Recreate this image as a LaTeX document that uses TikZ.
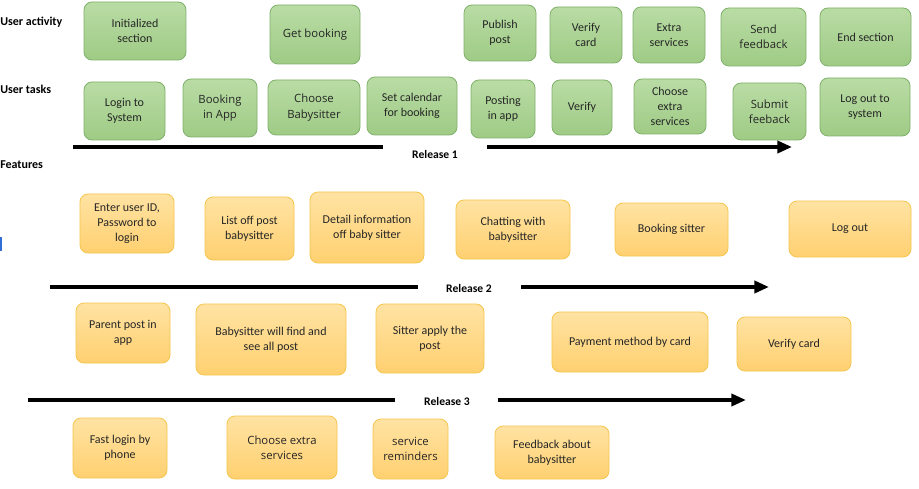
\documentclass[tikz,border=0pt]{standalone}
\usepackage{fontspec}
\setmainfont{Carlito}
\newfontfamily\segoe{Open Sans}
\usetikzlibrary{arrows.meta}
\definecolor{gfillT}{HTML}{B9DCA5}
\definecolor{gfillB}{HTML}{9FCB85}
\definecolor{gdraw}{HTML}{7FB069}
\definecolor{yfillT}{HTML}{FFE3A3}
\definecolor{yfillB}{HTML}{FFD070}
\definecolor{ydraw}{HTML}{F5C64E}
\definecolor{txt}{HTML}{262626}
\definecolor{cursorblue}{HTML}{2F6FD6}
\tikzset{
 card/.style={rounded corners=6pt, inner sep=1pt, align=center, line width=0.6pt, font=\fontsize{9}{11.25}\selectfont, text=txt},
 gbox/.style={card, draw=gdraw, top color=gfillT, bottom color=gfillB},
 ybox/.style={card, draw=ydraw, top color=yfillT, bottom color=yfillB},
 big/.style={font=\segoe\fontsize{8.5}{11.5}\selectfont},
 rowlabel/.style={anchor=west, font=\bfseries\fontsize{9}{10}\selectfont, inner sep=0},
 rel/.style={font=\bfseries\fontsize{8.7}{10}\selectfont, inner sep=0},
 relline/.style={line width=3pt},
 relarrow/.style={line width=3pt, -{Triangle[length=11pt,width=9pt]}},
}
\newcommand\cardat[7]{\node[#1, minimum width={(#5-#3)*0.75pt}, minimum height={(#6-#4)*0.75pt}] (#2) at ({(#3+#5)/2},{(#4+#6)/2}) {#7};}
\begin{document}
\begin{tikzpicture}[x=0.75pt,y=-0.75pt]
\useasboundingbox (0,0) rectangle (919,488);
\fill[white] (0,0) rectangle (919,488);
% row labels
\node[rowlabel] (la) at (0,22) {User activity};
\node[rowlabel] (lt) at (0,89) {User tasks};
\node[rowlabel] (lf) at (0,165) {Features};
% user activity
\cardat{gbox}{a1}{84}{2}{186}{60}{Initialized\\section}
\cardat{gbox,big}{a2}{270}{5}{360}{64}{Get booking}
\cardat{gbox}{a3}{464}{5}{536}{61}{Publish\\post}
\cardat{gbox}{a4}{550}{7}{622}{63}{Verify\\card}
\cardat{gbox}{a5}{633}{7}{705}{63}{Extra\\services}
\cardat{gbox,big}{a6}{721}{8}{806}{66}{Send\\feedback}
\cardat{gbox}{a7}{820}{8}{911}{66}{End section}
% user tasks
\cardat{gbox}{t1}{84}{82}{165}{140}{Login to\\System}
\cardat{gbox,big}{t2}{183}{79}{257}{137}{Booking\\in App}
\cardat{gbox,big}{t3}{268}{80}{360}{135}{Choose\\Babysitter}
\cardat{gbox}{t4}{367}{77}{457}{135}{Set calendar\\for booking}
\cardat{gbox}{t5}{471}{80}{535}{138}{Posting\\in app}
\cardat{gbox}{t6}{552}{80}{612}{135}{Verify}
\cardat{gbox}{t7}{634}{79}{706}{134}{Choose\\extra\\services}
\cardat{gbox,big}{t8}{733}{83}{806}{140}{Submit\\feeback}
\cardat{gbox}{t9}{820}{78}{910}{136}{Log out to\\system}
% release 1
\coordinate (r1a) at (73,147); \coordinate (r1b) at (383,147);
\coordinate (r1c) at (487,147); \coordinate (r1d) at (792,147);
\draw[relline] (r1a) -- (r1b);
\node[rel] (r1) at (435,154) {Release 1};
\draw[relarrow] (r1c) -- (r1d);
% features row 1
\cardat{ybox}{f1}{80}{194}{174}{253}{Enter user ID,\\Password to\\login}
\cardat{ybox}{f2}{205}{197}{294}{260}{List off post\\babysitter}
\cardat{ybox}{f3}{310}{192}{424}{263}{Detail information\\off baby sitter}
\cardat{ybox}{f4}{456}{200}{570}{259}{Chatting with\\babysitter}
\cardat{ybox}{f5}{615}{203}{728}{256}{Booking sitter}
\cardat{ybox}{f6}{789}{201}{911}{257}{Log out}
% release 2
\coordinate (r2a) at (50,287); \coordinate (r2b) at (418,287);
\coordinate (r2c) at (521,287); \coordinate (r2d) at (769,287);
\draw[relline] (r2a) -- (r2b);
\node[rel] (r2) at (469,288) {Release 2};
\draw[relarrow] (r2c) -- (r2d);
% features row 2
\cardat{ybox}{g1}{76}{303}{170}{363}{Parent post in\\app}
\cardat{ybox}{g2}{196}{304}{346}{375}{Babysitter will find and\\see all post}
\cardat{ybox}{g3}{376}{304}{484}{373}{Sitter apply the\\post}
\cardat{ybox}{g4}{552}{312}{708}{372}{Payment method by card}
\cardat{ybox}{g5}{737}{317}{851}{371}{Verify card}
% release 3
\coordinate (r3a) at (28,400); \coordinate (r3b) at (395,400);
\coordinate (r3c) at (498,400); \coordinate (r3d) at (746,400);
\draw[relline] (r3a) -- (r3b);
\node[rel] (r3) at (447,401) {Release 3};
\draw[relarrow] (r3c) -- (r3d);
% features row 3
\cardat{ybox}{h1}{73}{418}{167}{478}{Fast login by\\phone}
\cardat{ybox,big}{h2}{227}{416}{337}{479}{Choose extra\\services}
\cardat{ybox,big}{h3}{373}{419}{448}{479}{service\\reminders}
\cardat{ybox}{h4}{495}{426}{609}{479}{Feedback about\\babysitter}
% cursor mark
\coordinate (cm1) at (1,237); \coordinate (cm2) at (1,251);
\draw[cursorblue, line width=1.2pt] (cm1) -- (cm2);
\end{tikzpicture}
\end{document}
